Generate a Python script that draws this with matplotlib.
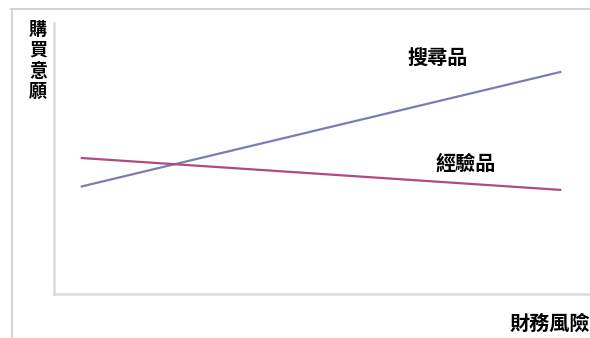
import matplotlib.pyplot as plt
from matplotlib.lines import Line2D

plt.rcParams['font.family'] = ['Noto Sans CJK TC', 'DejaVu Sans']

# 數據：財務風險 (x) 與 購買意願 (y)
risk = [5, 95]
search_goods = [39.6, 82.0]
experience_goods = [50.2, 38.4]

y_label = "購買意願"
x_label = "財務風險"
search_label = "搜尋品"
experience_label = "經驗品"

W, H = 590, 338
fig = plt.figure(figsize=(W / 100, H / 100), dpi=100)

# 外框（上、左）
fig.add_artist(Line2D([11 / W, 1], [1 - 8.5 / H, 1 - 8.5 / H], color='#cccccc', lw=1.2))
fig.add_artist(Line2D([11.5 / W, 11.5 / W], [0, 1 - 8.5 / H], color='#cccccc', lw=1.2))

ax = fig.add_axes([54 / W, 1 - 294 / H, 534 / W, 271 / H])
ax.plot(risk, search_goods, color='#7b7db5', lw=1.6, solid_capstyle='butt')
ax.plot(risk, experience_goods, color='#b24a7e', lw=1.6, solid_capstyle='butt')
ax.set_xlim(0, 100)
ax.set_ylim(0, 100)
ax.set_xticks([])
ax.set_yticks([])
for side in ['top', 'right']:
    ax.spines[side].set_visible(False)
for side in ['left', 'bottom']:
    ax.spines[side].set_color('#d9d9d9')
    ax.spines[side].set_linewidth(1.8)

# 軸標題
fig.text(38 / W, 1 - 20 / H, "\n".join(y_label), ha='center', va='top',
         fontsize=13, fontweight='bold', linespacing=1.12)
fig.text(510 / W, 1 - 323 / H, x_label, ha='left', va='center',
         fontsize=14.5, fontweight='bold')

# 線條標籤
fig.text(407 / W, 1 - 58 / H, search_label, ha='left', va='center',
         fontsize=14.5, fontweight='bold')
fig.text(436 / W, 1 - 163 / H, experience_label, ha='left', va='center',
         fontsize=14.5, fontweight='bold')

fig.savefig('out.png', dpi=100)
